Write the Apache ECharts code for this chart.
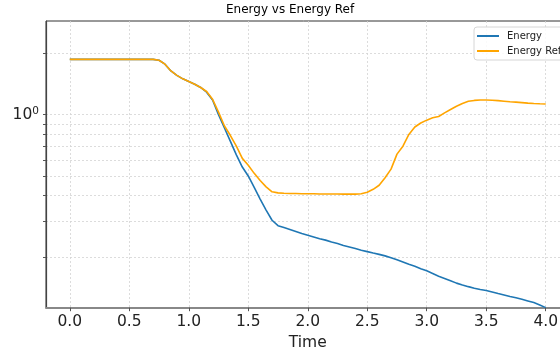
<!DOCTYPE html>
<html>
<head>
<meta charset="utf-8">
<script src="https://cdn.jsdelivr.net/npm/echarts@6/dist/echarts.min.js"></script>
<style>
html, body { margin: 0; padding: 0; background: #fff; }
#chart { width: 560px; height: 349px; }
</style>
</head>
<body>
<div id="chart"></div>
<script>
// time samples (step 0.05)
var times = [];
for (var i = 0; i <= 80; i++) times.push(+(i * 0.05).toFixed(2));

// Energy
var energy = [
  1.87, 1.87, 1.87, 1.87, 1.87, 1.87, 1.87, 1.87, 1.87, 1.87,   // 0.00 - 0.45
  1.87, 1.87, 1.87, 1.87, 1.87, 1.85, 1.77, 1.64, 1.56, 1.50,   // 0.50 - 0.95
  1.455, 1.41, 1.36, 1.29, 1.18, 1.00, 0.86, 0.74, 0.635, 0.553, // 1.00 - 1.45
  0.50, 0.44, 0.385, 0.34, 0.303, 0.285, 0.279, 0.273, 0.267, 0.261, // 1.50 - 1.95
  0.256, 0.251, 0.246, 0.242, 0.237, 0.233, 0.228, 0.224, 0.220, 0.216, // 2.00 - 2.45
  0.2125, 0.209, 0.206, 0.2025, 0.1985, 0.194, 0.189, 0.184, 0.180, 0.175, // 2.50 - 2.95
  0.171, 0.166, 0.161, 0.157, 0.153, 0.1488, 0.1458, 0.143, 0.1405, 0.1385, // 3.00 - 3.45
  0.1368, 0.1345, 0.1322, 0.130, 0.1278, 0.126, 0.124, 0.1217, 0.1194, 0.1162, // 3.50 - 3.95
  0.1128 // 4.00
];

// Energy Ref
var energyRef = [
  1.87, 1.87, 1.87, 1.87, 1.87, 1.87, 1.87, 1.87, 1.87, 1.87,
  1.87, 1.87, 1.87, 1.87, 1.87, 1.85, 1.77, 1.64, 1.56, 1.50,
  1.455, 1.41, 1.36, 1.30, 1.19, 1.03, 0.88, 0.79, 0.70, 0.61,
  0.565, 0.515, 0.475, 0.442, 0.418, 0.413, 0.411, 0.410, 0.410, 0.409,
  0.409, 0.409, 0.408, 0.408, 0.408, 0.408, 0.407, 0.407, 0.407, 0.409,
  0.416, 0.43, 0.45, 0.49, 0.54, 0.64, 0.70, 0.80, 0.87, 0.91,
  0.94, 0.965, 0.98, 1.02, 1.06, 1.10, 1.135, 1.163, 1.175, 1.18,
  1.181, 1.178, 1.172, 1.165, 1.158, 1.152, 1.146, 1.14, 1.135, 1.131,
  1.128
];

var xTicks = [0, 0.5, 1, 1.5, 2, 2.5, 3, 3.5, 4];
var yLabelTicks = [1];
var yMinorTicks = [0.2, 0.3, 0.4, 0.5, 0.6, 0.7, 0.8, 0.9, 1, 2];

function pairs(ys) {
  return times.map(function (t, k) { return [t, ys[k]]; });
}

var gridDash = { color: '#d4d4d4', width: 0.8, type: [2, 2] };
var font = 'DejaVu Sans';

var option = {
  animation: false,
  backgroundColor: '#fff',
  title: {
    text: 'Energy vs Energy Ref',
    left: 226,
    top: 4,
    padding: 0,
    textStyle: { fontFamily: font, fontSize: 12, fontWeight: 'normal', color: '#000' }
  },
  legend: {
    left: 474,
    top: 27,
    orient: 'vertical',
    icon: 'rect',
    itemWidth: 22,
    itemHeight: 2,
    itemGap: 3,
    padding: [3, 6, 3, 3],
    backgroundColor: 'rgba(255,255,255,0.85)',
    borderColor: '#d6d6d6',
    borderWidth: 1,
    borderRadius: 3,
    textStyle: { fontFamily: font, fontSize: 10, color: '#222', lineHeight: 12, padding: [0, 0, 0, 3] },
    data: ['Energy', 'Energy Ref']
  },
  grid: {
    left: 46,
    top: 21,
    width: 523.5,
    height: 286.7,
    show: true,
    borderColor: '#333',
    borderWidth: 1,
    outerBoundsMode: 'none'
  },
  xAxis: {
    type: 'value',
    min: -0.2,
    max: 4.2,
    name: 'Time',
    nameLocation: 'middle',
    nameGap: 23,
    nameTextStyle: { fontFamily: font, fontSize: 15.5, color: '#222' },
    axisLine: { show: true, onZero: false, lineStyle: { color: '#888', width: 2 } },
    axisTick: { show: true, length: 3.5, customValues: xTicks, lineStyle: { color: '#555' } },
    axisLabel: {
      customValues: xTicks,
      margin: 6,
      fontFamily: font,
      fontSize: 15.5,
      color: '#222',
      formatter: function (v) { return v.toFixed(1); }
    },
    splitLine: { show: true, lineStyle: gridDash }
  },
  yAxis: {
    type: 'log',
    logBase: 10,
    min: 0.1127,
    max: 2.885,
    axisLine: { show: true, onZero: false, lineStyle: { color: '#444', width: 1.2 } },
    axisTick: { show: true, length: 3, customValues: yMinorTicks, lineStyle: { color: '#555' } },
    axisLabel: {
      customValues: yLabelTicks,
      margin: 7,
      formatter: function () { return '{a|10}{b|0}'; },
      rich: {
        a: { fontFamily: font, fontSize: 15.5, color: '#222' },
        b: { fontFamily: font, fontSize: 10.5, color: '#222', verticalAlign: 'top', padding: [0, 0, 7, 0] }
      }
    },
    splitLine: { show: true, lineStyle: gridDash }
  },
  series: [
    {
      name: 'Energy',
      type: 'line',
      data: pairs(energy),
      showSymbol: false,
      symbol: 'none',
      color: '#1f77b4',
      lineStyle: { width: 1.6 }
    },
    {
      name: 'Energy Ref',
      type: 'line',
      data: pairs(energyRef),
      showSymbol: false,
      symbol: 'none',
      color: '#ffa500',
      lineStyle: { width: 1.6 }
    }
  ]
};

var myChart = echarts.init(document.getElementById('chart'));
myChart.setOption(option);
</script>
</body>
</html>
